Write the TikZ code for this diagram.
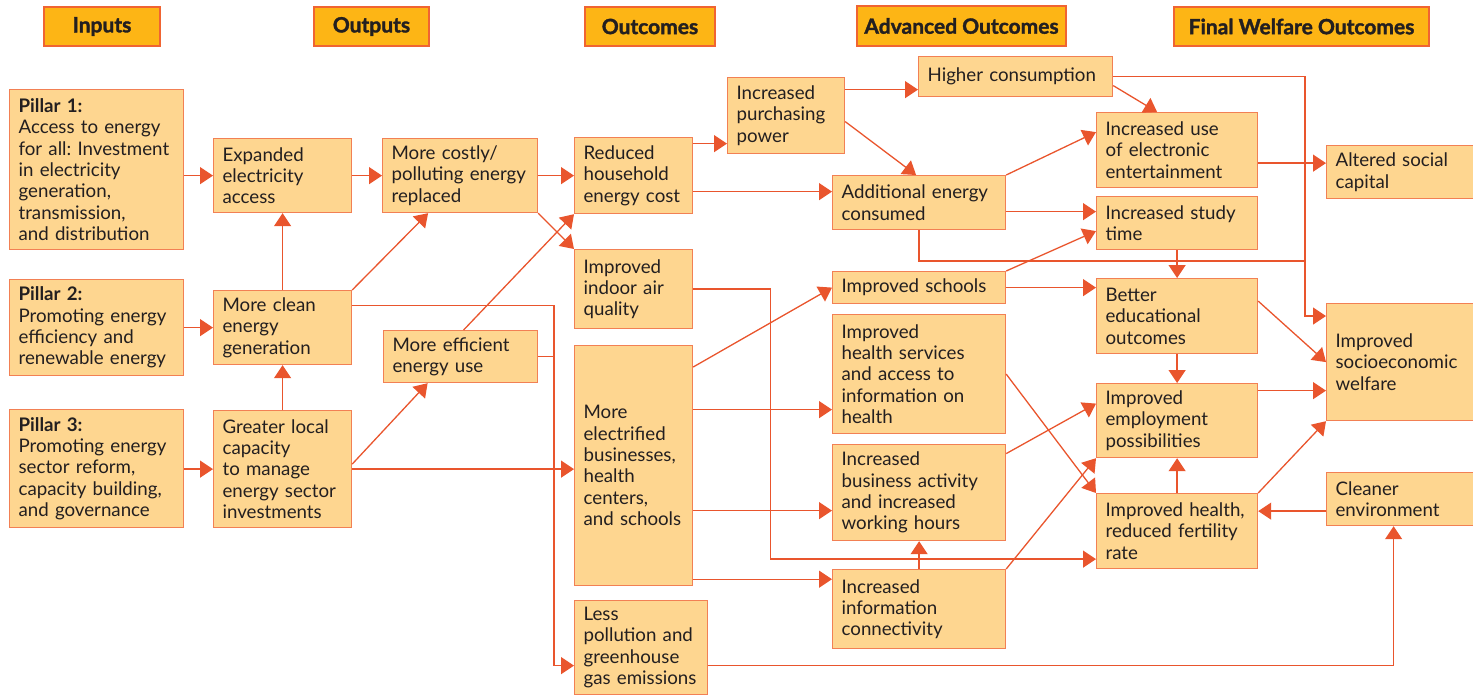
\documentclass[tikz,border=0pt]{standalone}
\usepackage{fontspec}
\setmainfont{Lato}
\newfontfamily\hdrfont{Lato}[BoldFeatures={FakeBold=1.6}]
\usetikzlibrary{arrows.meta, positioning, calc}

\definecolor{ink}{RGB}{35,31,32}
\definecolor{boxfill}{RGB}{254,214,144}
\definecolor{boxline}{RGB}{242,128,84}
\definecolor{hdrfill}{RGB}{253,181,21}
\definecolor{hdrline}{RGB}{240,100,50}
\definecolor{wire}{RGB}{233,85,45}

\frenchspacing
\begin{document}
\begin{tikzpicture}[
    x=1pt, y=-1pt,
    every node/.style={font=\fontsize{18.7}{21.3}\selectfont, text=ink},
    box/.style={draw=boxline, fill=boxfill, line width=1.2pt, anchor=north west, align=left, inner xsep=9pt, inner ysep=3pt},
    hdr/.style={draw=hdrline, fill=hdrfill, line width=1.2pt, font=\fontsize{21}{24}\selectfont\hdrfont\bfseries},
    arr/.style={draw=wire, line width=1.3pt, -{Triangle[length=13pt,width=17pt]}},
    link/.style={draw=wire, line width=1.3pt}
]
\useasboundingbox (0,0) rectangle (1473,696);

% column headers
\node[hdr, minimum width=116, minimum height=39] (inputs) at (102,26.5) {Inputs};
\node[hdr, minimum width=115, minimum height=39] (outputs) at (371.5,26.5) {Outputs};
\node[hdr, minimum width=130, minimum height=39] (outcomes) at (650,26.5) {Outcomes};
\node[hdr, minimum width=209, minimum height=40] (advanced) at (961.5,26) {Advanced Outcomes};
\node[hdr, minimum width=255, minimum height=39] (final) at (1301.5,26.5) {Final Welfare Outcomes};

% inputs
\node[box, text width=156, minimum height=160] (p1) at (9,89) {\textbf{Pillar 1:}\\Access to energy\\for all: Investment\\in electricity\\generation,\\transmission,\\and distribution};
\node[box, text width=156, minimum height=96] (p2) at (9,279) {\textbf{Pillar 2:}\\Promoting energy\\efficiency and\\renewable energy};
\node[box, text width=156, minimum height=118] (p3) at (9,409) {\textbf{Pillar 3:}\\Promoting energy\\sector reform,\\capacity building,\\and governance};

% outputs
\node[box, text width=120, minimum height=74] (expand) at (213,138) {Expanded\\electricity\\access};
\node[box, text width=120, minimum height=74] (clean) at (213,290) {More clean\\energy\\generation};
\node[box, text width=120, minimum height=117] (capacity) at (213,410) {Greater local\\capacity\\to manage\\energy sector\\investments};
\node[box, text width=137, minimum height=74] (replaced) at (382,138) {More costly/\\polluting energy\\replaced};
\node[box, text width=136, minimum height=52] (efficient) at (383,330) {More efficient\\energy use};

% outcomes
\node[box, text width=100, minimum height=76] (costs) at (574,137) {Reduced\\household\\energy cost};
\node[box, text width=100, minimum height=79] (airq) at (574,249) {Improved\\indoor air\\quality};
\node[box, text width=100, minimum height=240] (electrified) at (574,345) {More\\electrified\\businesses,\\health\\centers,\\and schools};
\node[box, text width=115, minimum height=94] (pollution) at (574,600) {Less\\pollution and\\greenhouse\\gas emissions};
\node[box, text width=99, minimum height=76] (purchase) at (727,77) {Increased\\purchasing\\power};

% advanced outcomes
\node[box, text width=176, minimum height=40] (consumption) at (918,56) {Higher consumption};
\node[box, text width=155, minimum height=54] (energy) at (832,175) {Additional energy\\consumed};
\node[box, text width=155, minimum height=32] (schools) at (832,271) {Improved schools};
\node[box, text width=155, minimum height=119] (health) at (832,314) {Improved\\health services\\and access to\\information on\\health};
\node[box, text width=155, minimum height=96] (business) at (832,444) {Increased\\business activity\\and increased\\working hours};
\node[box, text width=155, minimum height=79] (connect) at (832,569) {Increased\\information\\connectivity};
\node[box, text width=143, minimum height=75] (entertain) at (1096,112) {Increased use\\of electronic\\entertainment};
\node[box, text width=143, minimum height=53] (study) at (1096,196) {Increased study\\time};
\node[box, text width=143, minimum height=75] (education) at (1096,278) {Better\\educational\\outcomes};
\node[box, text width=143, minimum height=74] (employ) at (1096,383) {Improved\\employment\\possibilities};
\node[box, text width=143, minimum height=75] (fertility) at (1096,493) {Improved health,\\reduced fertility\\rate};

% final welfare outcomes
\node[box, text width=132, minimum height=53] (social) at (1326,145) {Altered social\\capital};
\node[box, text width=132, minimum height=117] (welfare) at (1326,303) {Improved\\socioeconomic\\welfare};
\node[box, text width=132, minimum height=53] (cleaner) at (1326,472) {Cleaner\\environment};

\coordinate (bend) at ([xshift=-21pt]welfare.north west);

% inputs -> outputs
\draw[arr] (p1.east |- expand.west) -- (expand.west);
\draw[arr] (p2.east |- clean.west) -- (clean.west);
\draw[arr] (p3.east |- capacity.west) -- (capacity.west);
\draw[arr] (clean) -- (expand);
\draw[arr] (capacity) -- (clean);
\draw[arr] (expand) -- (replaced);
\draw[arr] (clean.north east) -- ([xshift=-32pt]replaced.south);
\draw[arr] ([yshift=5pt]capacity.east) -- ([xshift=-33pt]efficient.south);
\draw[arr] (capacity.east) -- (capacity.east -| electrified.west);
\draw[arr] ([yshift=22pt]clean.east) -| ([xshift=-20pt, yshift=-18pt]pollution.west) -- ([yshift=-18pt]pollution.west);
\draw[link] (efficient.east) -- ++(17,0);

% outputs -> outcomes
\draw[arr] (replaced) -- (costs);
\draw[arr] (replaced.south east) -- (airq.north west);
\draw[arr] ([xshift=3pt]efficient.north) -- (costs.south west);
\draw[arr] ([yshift=32pt]costs.east) -- ([yshift=32pt]costs.east -| purchase.west);
\draw[arr] ([yshift=-16pt]costs.east) -- ([yshift=-16pt]costs.east -| energy.west);
\draw[arr] ([yshift=26pt]purchase.east) -- ([yshift=26pt]purchase.east -| consumption.west);
\draw[arr] ([yshift=-6pt]purchase.east) -- ([xshift=-3pt]energy.north);
\draw[arr] ([yshift=-22pt]electrified.north east) -- (schools.west);
\draw[arr] ([yshift=56pt]electrified.east) -- ([yshift=56pt]electrified.east -| health.west);
\draw[arr] ([yshift=-45pt]electrified.east) -- ([yshift=-45pt]electrified.east -| business.west);
\draw[arr] ([yshift=7pt]electrified.south east) -- ([yshift=7pt]electrified.south east -| connect.west);
\draw[arr] (airq.east) -- ([xshift=77pt]airq.east) |- ([yshift=-28pt]fertility.west);
\draw[arr] ([yshift=-18pt]pollution.east) -| ([xshift=-8pt]cleaner.south);

% advanced outcomes
\draw[arr] ([yshift=-9pt]consumption.east) -- ([xshift=-20pt]entertain.north);
\draw[arr] (consumption.east) -| ([yshift=-13pt]bend) -- ([yshift=-13pt]welfare.north west);
\draw[arr] (energy.north east) -- ([yshift=18pt]entertain.west);
\draw[arr] ([yshift=-9pt]energy.east) -- ([yshift=-9pt]energy.east -| study.west);
\draw[link] (energy.south) |- ([yshift=42pt]bend);
\draw[arr] (schools.north east) -- ([yshift=-8pt]study.west);
\draw[arr] (schools.east) -- (schools.east -| education.west);
\draw[arr] (study) -- (education);
\draw[arr] (connect) -- (business);
\draw[arr] (connect.north east) -- (employ.south west);
\draw[arr] ([yshift=39pt]business.east) -- ([yshift=17pt]employ.west);
\draw[arr] (health.east) -- (fertility.north west);
\draw[arr] (education) -- (employ);
\draw[arr] (fertility) -- (employ);

% final welfare outcomes
\draw[arr] ([yshift=-13pt]entertain.east) -- ([yshift=-13pt]entertain.east -| social.west);
\draw[arr] ([yshift=15pt]education.east) -- (welfare.west);
\draw[arr] ([yshift=30pt]employ.east) -- ([yshift=30pt]employ.east -| welfare.west);
\draw[arr] (fertility.north east) -- (welfare.south west);
\draw[arr] ([yshift=-12pt]cleaner.west) -- ([yshift=-12pt]cleaner.west -| fertility.east);

\end{tikzpicture}
\end{document}
